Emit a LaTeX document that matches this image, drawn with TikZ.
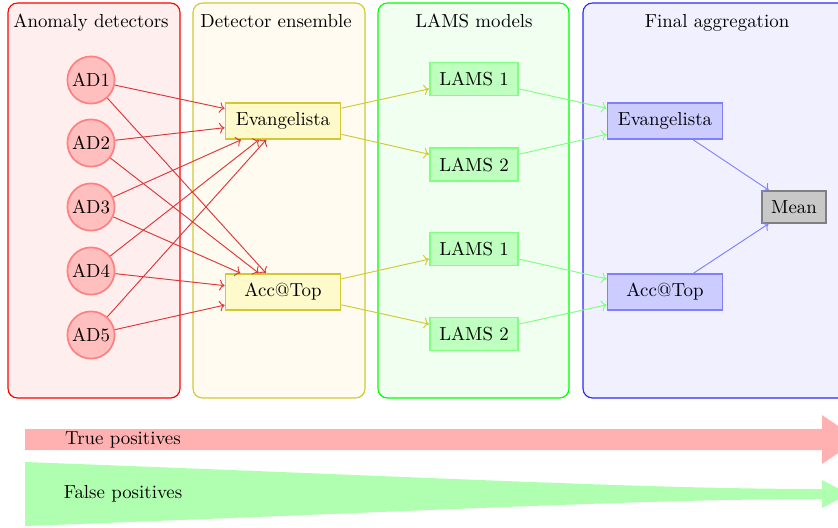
\documentclass[tikz,border=0pt]{standalone}
\usetikzlibrary{arrows.meta}
\definecolor{grpredfill}{RGB}{255,238,238}
\definecolor{grpyelfill}{RGB}{255,251,240}
\definecolor{grpyelbord}{RGB}{212,200,50}
\definecolor{grpgrnfill}{RGB}{240,255,240}
\definecolor{grpblufill}{RGB}{240,240,255}
\definecolor{grpblubord}{RGB}{40,40,255}
\definecolor{arrred}{RGB}{222,55,55}
\definecolor{nodeyelfill}{RGB}{255,250,204}
\definecolor{meanfill}{RGB}{200,200,200}
\definecolor{meanbord}{RGB}{128,128,128}
\definecolor{tpcol}{RGB}{255,176,176}
\definecolor{fpcol}{RGB}{176,255,176}
\begin{document}
\begin{tikzpicture}[x=0.53pt,y=-0.53pt,
  grpbox/.style={line width=0.6pt, rounded corners=5pt},
  grptitle/.style={anchor=base, inner sep=0pt},
  adnode/.style={circle, draw=red!50, fill=red!25, line width=0.9pt, minimum size=25pt, inner sep=0pt},
  yelnode/.style={rectangle, draw=grpyelbord, fill=nodeyelfill, line width=0.9pt, inner sep=5pt, minimum width=61pt},
  lamsnode/.style={rectangle, draw=green!50, fill=green!25, line width=0.9pt, inner sep=5pt},
  blunode/.style={rectangle, draw=blue!50, fill=blue!20, line width=0.9pt, inner sep=5pt, minimum width=61pt},
  meannode/.style={rectangle, draw=meanbord, fill=meanfill, line width=0.9pt, inner sep=5pt},
  redarr/.style={->, draw=arrred, line width=0.5pt},
  yelarr/.style={->, draw=grpyelbord, line width=0.5pt},
  grnarr/.style={->, draw=green!50, line width=0.5pt},
  bluarr/.style={->, draw=blue!50, line width=0.5pt},
  bandlabel/.style={inner sep=0pt}
]
\useasboundingbox (0,0) rectangle (838,527);
\clip (0,0) rectangle (838,527);

% group boxes
\draw[grpbox, draw=red, fill=grpredfill] (8,3) rectangle (180,398);
\draw[grpbox, draw=grpyelbord, fill=grpyelfill] (193,3) rectangle (365,398);
\draw[grpbox, draw=green, fill=grpgrnfill] (378,3) rectangle (569,398);
\draw[grpbox, draw=grpblubord, fill=grpblufill] (583,3) rectangle (851,398);

\node[grptitle] (t1) at (91,27) {Anomaly detectors};
\node[grptitle] (t2) at (276,27) {Detector ensemble};
\node[grptitle] (t3) at (474,27) {LAMS models};
\node[grptitle] (t4) at (717,27) {Final aggregation};

% nodes
\node[adnode] (ad1) at (91,80) {AD1};
\node[adnode] (ad2) at (91,143) {AD2};
\node[adnode] (ad3) at (91,207) {AD3};
\node[adnode] (ad4) at (91,271) {AD4};
\node[adnode] (ad5) at (91,335) {AD5};

\node[yelnode] (evy) at (283,121) {Evangelista};
\node[yelnode] (accy) at (283,292) {Acc@Top};

\node[lamsnode] (l1a) at (474,79) {LAMS 1};
\node[lamsnode] (l2a) at (474,164.5) {LAMS 2};
\node[lamsnode] (l1b) at (474,249) {LAMS 1};
\node[lamsnode] (l2b) at (474,334) {LAMS 2};

\node[blunode] (evb) at (665,121) {Evangelista};
\node[blunode] (accb) at (665,292) {Acc@Top};
\node[meannode] (mean) at (794,207) {Mean};

% connectors
\foreach \a in {ad1,ad2,ad3,ad4,ad5}{
  \draw[redarr] (\a) -- (evy);
  \draw[redarr] (\a) -- (accy);
}
\draw[yelarr] (evy) -- (l1a);
\draw[yelarr] (evy) -- (l2a);
\draw[yelarr] (accy) -- (l1b);
\draw[yelarr] (accy) -- (l2b);
\draw[grnarr] (l1a) -- (evb);
\draw[grnarr] (l2a) -- (evb);
\draw[grnarr] (l1b) -- (accb);
\draw[grnarr] (l2b) -- (accb);
\draw[bluarr] (evb) -- (mean);
\draw[bluarr] (accb) -- (mean);

% bottom arrows
\fill[tpcol] (25,429) -- (822,429) -- (822,415) -- (858,439.5) -- (822,464) -- (822,450) -- (25,450) -- cycle;
\fill[fpcol] (25,462) .. controls (450,478) and (650,489) .. (822,489) -- (822,480) -- (849,494) -- (822,508) -- (822,499) .. controls (650,499) and (450,510) .. (25,526) -- cycle;
\node[bandlabel] (tp) at (123,440) {True positives};
\node[bandlabel] (fp) at (123,494) {False positives};
\end{tikzpicture}
\end{document}
